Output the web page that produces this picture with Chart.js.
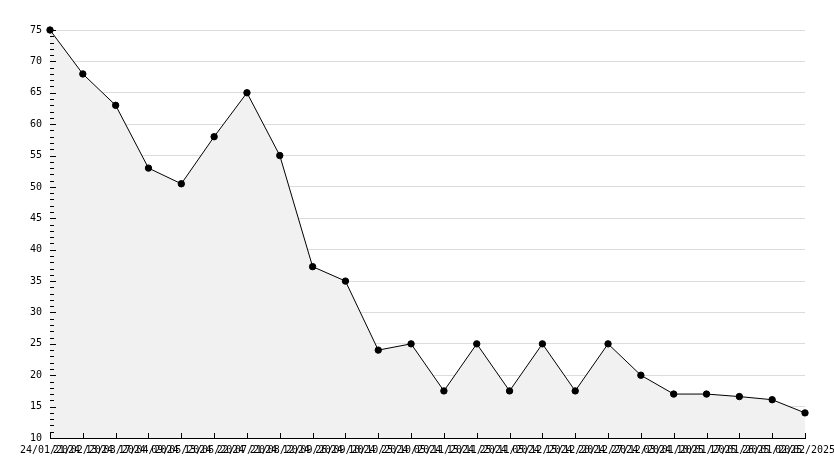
<!DOCTYPE html>
<html>
<head>
<meta charset="utf-8">
<script src="https://cdn.jsdelivr.net/npm/chart.js@4/dist/chart.umd.min.js"></script>
<style>
  html, body { margin: 0; padding: 0; background: #fff; }
  #wrap { width: 834px; height: 468px; }
</style>
</head>
<body>
<div id="wrap"><canvas id="lineChart" width="834" height="468"></canvas></div>
<script>
// Chart data
const dates = [
    '24/01/2024', '21/02/2024', '13/03/2024', '17/04/2024', '09/05/2024', '13/06/2024',
    '22/07/2024', '21/08/2024', '12/09/2024', '26/09/2024', '10/10/2024', '25/10/2024',
    '05/11/2024', '15/11/2024', '25/11/2024', '05/12/2024', '15/12/2024', '20/12/2024',
    '27/12/2024', '03/01/2025', '10/01/2025', '17/01/2025', '26/01/2025', '02/02/2025'
];
const values = [
    75, 68, 63, 53, 50.5, 58, 65, 55, 37.3, 35, 24, 25,
    17.5, 25, 17.5, 25, 17.5, 25, 20, 17, 17, 16.6, 16.1, 14
];
const yMin = 10;
const yMax = 75;

const axisFont = { family: 'DejaVu Sans Mono', size: 10 };

// Short tick marks drawn inward from the axes
const innerTicks = {
    id: 'innerTicks',
    afterDatasetsDraw(chart) {
        const { ctx, chartArea, scales: { x, y } } = chart;
        ctx.save();
        ctx.strokeStyle = '#000';
        ctx.lineWidth = 1;
        ctx.beginPath();
        x.ticks.forEach((t, i) => {
            const px = Math.round(x.getPixelForTick(i)) + 0.5;
            ctx.moveTo(px, chartArea.bottom);
            ctx.lineTo(px, chartArea.bottom - 5);
        });
        y.ticks.forEach((t) => {
            const py = Math.round(y.getPixelForValue(t.value)) + 0.5;
            const len = t.value % 5 === 0 ? 6 : 4;
            ctx.moveTo(chartArea.left, py);
            ctx.lineTo(chartArea.left + len, py);
        });
        ctx.stroke();
        ctx.restore();
    }
};

const ctx = document.getElementById('lineChart').getContext('2d');
const lineChart = new Chart(ctx, {
    type: 'line',
    data: {
        labels: dates,
        datasets: [{
            data: values,
            borderColor: '#000',
            borderWidth: 1,
            backgroundColor: '#f1f1f1',
            fill: 'start',
            tension: 0,
            clip: false,
            pointRadius: 3.2,
            pointBackgroundColor: '#000',
            pointBorderColor: '#000',
            pointBorderWidth: 1
        }]
    },
    options: {
        responsive: false,
        animation: false,
        layout: { padding: { top: 30, right: 29, left: 0, bottom: 0 } },
        plugins: {
            legend: { display: false },
            tooltip: { enabled: false }
        },
        scales: {
            x: {
                offset: false,
                grid: { color: 'transparent', drawTicks: false },
                border: { display: true, color: '#000', width: 1 },
                ticks: {
                    autoSkip: false,
                    maxRotation: 0,
                    minRotation: 0,
                    padding: 6,
                    color: '#000',
                    font: axisFont
                },
                afterFit(scale) {
                    scale.height = 30;
                    scale.paddingLeft = 0;
                    scale.paddingRight = 0;
                }
            },
            y: {
                min: yMin,
                max: yMax,
                grid: {
                    drawTicks: false,
                    color: (c) => (c.tick && c.tick.value % 5 === 0 && c.tick.value !== yMin ? '#dcdcdc' : 'transparent')
                },
                border: { display: true, color: '#000', width: 1 },
                ticks: {
                    stepSize: 1,
                    autoSkip: false,
                    padding: 8,
                    color: '#000',
                    font: axisFont,
                    callback: (v) => (v % 5 === 0 ? v : '')
                },
                afterFit(scale) {
                    scale.width = 50;
                }
            }
        }
    },
    plugins: [innerTicks]
});
</script>
</body>
</html>
